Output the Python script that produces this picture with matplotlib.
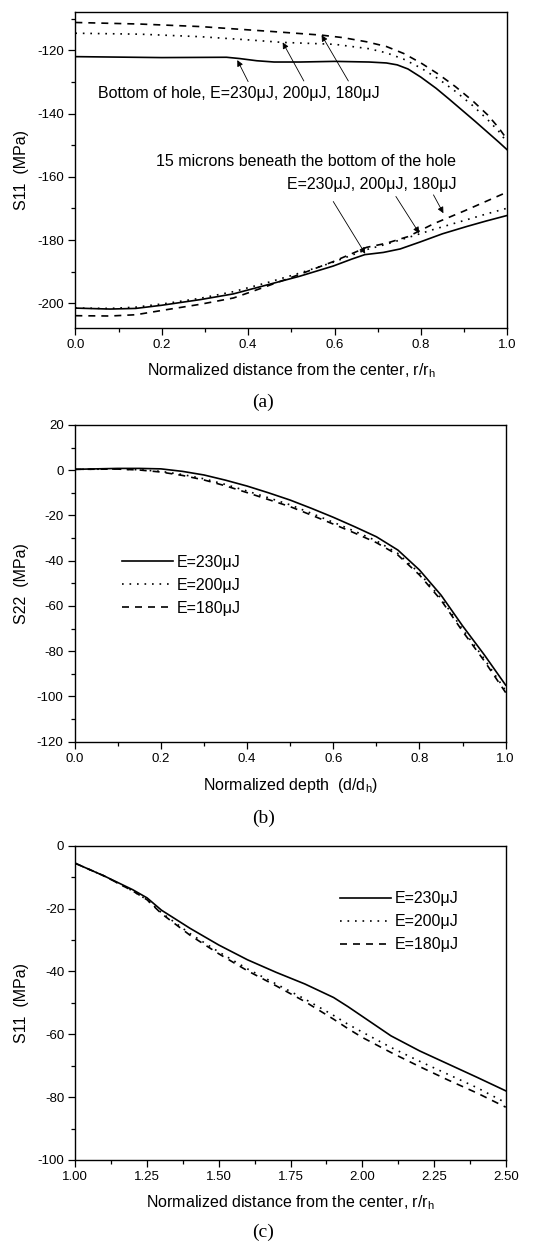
import numpy as np
import matplotlib
matplotlib.use("Agg")
import matplotlib.pyplot as plt
from matplotlib.ticker import MultipleLocator, FormatStrFormatter

plt.rcParams['font.family'] = ['Liberation Sans', 'DejaVu Sans']
plt.rcParams['mathtext.fontset'] = 'custom'
plt.rcParams['mathtext.rm'] = 'Liberation Sans'
plt.rcParams['axes.unicode_minus'] = False

# ---- panel (a): S11 vs r/rh ----
# bottom of hole
a_top_x230 = [0.0, 0.2, 0.35, 0.38, 0.42, 0.46, 0.52, 0.6, 0.68, 0.72, 0.745, 0.77, 0.8, 0.835, 0.865, 0.895, 0.925, 0.955, 0.98, 1.0]
a_top_y230 = [-122.0, -122.3, -122.2, -122.6, -123.3, -123.7, -123.7, -123.5, -123.7, -124.0, -124.6, -125.9, -128.5, -132.0, -135.4, -138.9, -142.4, -146.0, -149.0, -151.5]
a_top_x200 = [0.0, 0.15, 0.29, 0.4, 0.48, 0.6, 0.68, 0.72, 0.76, 0.8, 0.84, 0.88, 0.92, 0.955, 0.98, 1.0]
a_top_y200 = [-114.6, -114.9, -115.7, -116.7, -117.5, -118.1, -119.5, -120.8, -122.8, -125.6, -129.0, -133.0, -137.5, -142.0, -145.6, -149.2]
a_top_x180 = [0.0, 0.15, 0.29, 0.45, 0.57, 0.62, 0.674, 0.72, 0.76, 0.8, 0.84, 0.88, 0.92, 0.955, 0.98, 1.0]
a_top_y180 = [-111.2, -111.7, -112.5, -114.0, -115.2, -116.0, -117.3, -118.8, -121.0, -124.0, -127.5, -131.5, -136.0, -140.5, -144.5, -148.3]
# 15 microns beneath the bottom of the hole
a_bot_x230 = [0.0, 0.08, 0.14, 0.2, 0.29, 0.366, 0.443, 0.52, 0.597, 0.64, 0.67, 0.713, 0.752, 0.798, 0.85, 0.906, 0.95, 1.0]
a_bot_y230 = [-201.5, -201.8, -201.6, -200.6, -198.8, -197.0, -194.2, -191.4, -188.2, -186.0, -184.6, -183.9, -182.8, -180.6, -178.0, -175.7, -174.0, -172.2]
a_bot_x200 = [0.0, 0.08, 0.14, 0.211, 0.289, 0.366, 0.443, 0.52, 0.597, 0.674, 0.72, 0.77, 0.83, 0.9, 0.95, 1.0]
a_bot_y200 = [-201.5, -201.6, -201.2, -200.0, -198.4, -196.3, -193.5, -190.4, -187.0, -183.0, -181.3, -179.2, -176.6, -173.8, -171.8, -169.9]
a_bot_x180 = [0.0, 0.08, 0.14, 0.211, 0.289, 0.366, 0.404, 0.443, 0.52, 0.597, 0.674, 0.72, 0.77, 0.83, 0.9, 0.95, 1.0]
a_bot_y180 = [-203.9, -204.0, -203.6, -202.0, -200.3, -198.3, -196.5, -194.6, -190.8, -186.8, -182.3, -181.0, -178.9, -174.8, -170.8, -167.8, -164.8]

# ---- panel (b): S22 vs depth ----
b_x = [0.0, 0.1, 0.15, 0.2, 0.25, 0.3, 0.35, 0.4, 0.45, 0.5, 0.55, 0.6, 0.65, 0.7, 0.75, 0.8, 0.85, 0.9, 0.95, 1.0]
b_230 = [0.4, 0.8, 0.8, 0.6, -0.5, -2.1, -4.4, -7.0, -10.0, -13.2, -16.9, -20.8, -25.0, -29.4, -35.3, -44.1, -55.2, -68.8, -81.5, -95.0]
b_200 = [0.4, 0.5, 0.2, -0.5, -1.9, -3.8, -6.3, -9.2, -12.2, -15.3, -19.1, -23.0, -27.0, -31.2, -36.8, -45.5, -56.6, -70.3, -83.3, -97.5]
b_180 = [0.4, 0.5, 0.1, -0.8, -2.3, -4.3, -6.9, -9.9, -13.0, -16.1, -19.9, -23.8, -27.8, -32.0, -37.5, -46.3, -57.4, -71.2, -84.2, -98.3]

# ---- panel (c): S11 vs r/rh ----
c_x = [1.0, 1.1, 1.2, 1.25, 1.3, 1.4, 1.5, 1.6, 1.7, 1.8, 1.9, 1.95, 2.0, 2.1, 2.2, 2.3, 2.4, 2.5]
c_230 = [-5.6, -9.6, -14.0, -16.6, -20.5, -26.3, -31.6, -36.3, -40.3, -44.0, -48.3, -51.2, -54.3, -60.5, -65.3, -69.5, -73.7, -78.0]
c_200 = [-5.6, -9.6, -14.4, -17.2, -21.3, -28.0, -33.8, -39.2, -44.0, -48.8, -54.0, -56.8, -59.3, -64.2, -68.6, -72.8, -77.0, -81.8]
c_180 = [-5.6, -9.6, -14.4, -17.2, -21.6, -28.5, -34.4, -39.8, -44.6, -49.6, -55.2, -58.2, -61.0, -65.8, -70.3, -74.6, -78.7, -83.2]

labels = ['E=230\u03bcJ', 'E=200\u03bcJ', 'E=180\u03bcJ']
styles = ['-', (0, (1, 3.5)), (0, (4.2, 3.6))]
lw = 1.2
fs = 11.5

fig = plt.figure(figsize=(5.35, 12.47), dpi=100)
axa = fig.add_axes([0.1408, 0.7372, 0.8075, 0.2534])
axb = fig.add_axes([0.1396, 0.4052, 0.8056, 0.2540])
axc = fig.add_axes([0.1408, 0.0698, 0.8045, 0.2520])


def style_ax(ax):
    for s in ax.spines.values():
        s.set_linewidth(1.0)
    ax.tick_params(which='both', direction='out', top=False, right=False, labelsize=9.5, width=0.9, pad=3)
    ax.tick_params(which='major', length=5)
    ax.tick_params(which='minor', length=3)


# (a)
for xs, ys, ls in [(a_top_x230, a_top_y230, styles[0]), (a_top_x200, a_top_y200, styles[1]),
                   (a_top_x180, a_top_y180, styles[2]), (a_bot_x230, a_bot_y230, styles[0]),
                   (a_bot_x200, a_bot_y200, styles[1]), (a_bot_x180, a_bot_y180, styles[2])]:
    axa.plot(xs, ys, color='k', ls=ls, lw=lw)
axa.set_xlim(0, 1.0)
axa.set_ylim(-207.7, -107.8)
axa.xaxis.set_major_locator(MultipleLocator(0.2))
axa.xaxis.set_minor_locator(MultipleLocator(0.1))
axa.yaxis.set_major_locator(MultipleLocator(20))
axa.yaxis.set_minor_locator(MultipleLocator(10))
axa.xaxis.set_major_formatter(FormatStrFormatter('%.1f'))
style_ax(axa)
axa.set_xlabel('Normalized distance from the center, r/r$_\\mathrm{h}$', fontsize=fs)
axa.set_ylabel('S11  (MPa)', fontsize=fs)

arr = dict(arrowstyle='-|>', color='k', lw=0.6, mutation_scale=9, shrinkA=0, shrinkB=0)
axa.text(0.053, -133.6, 'Bottom of hole, E=230\u03bcJ, 200\u03bcJ, 180\u03bcJ', fontsize=fs, va='center')
axa.annotate('', xy=(0.375, -123.1), xytext=(0.40, -129.9), arrowprops=arr)
axa.annotate('', xy=(0.48, -117.5), xytext=(0.529, -129.7), arrowprops=arr)
axa.annotate('', xy=(0.570, -115.2), xytext=(0.632, -129.7), arrowprops=arr)
axa.text(0.882, -155.2, '15 microns beneath the bottom of the hole', fontsize=fs, va='center', ha='right')
axa.text(0.882, -162.3, 'E=230\u03bcJ, 200\u03bcJ, 180\u03bcJ', fontsize=fs, va='center', ha='right')
axa.annotate('', xy=(0.671, -184.3), xytext=(0.597, -167.8), arrowprops=arr)
axa.annotate('', xy=(0.796, -177.8), xytext=(0.742, -166.2), arrowprops=arr)
axa.annotate('', xy=(0.852, -171.5), xytext=(0.829, -165.7), arrowprops=arr)

# (b)
for y, ls, lab in zip([b_230, b_200, b_180], styles, labels):
    axb.plot(b_x, y, color='k', ls=ls, lw=lw, label=lab)
axb.set_xlim(0, 1.0)
axb.set_ylim(-120, 20)
axb.xaxis.set_major_locator(MultipleLocator(0.2))
axb.xaxis.set_minor_locator(MultipleLocator(0.1))
axb.yaxis.set_major_locator(MultipleLocator(20))
axb.yaxis.set_minor_locator(MultipleLocator(10))
axb.xaxis.set_major_formatter(FormatStrFormatter('%.1f'))
style_ax(axb)
axb.set_xlabel('Normalized depth  (d/d$_\\mathrm{h}$)', fontsize=fs)
axb.set_ylabel('S22  (MPa)', fontsize=fs)
axb.legend(loc='upper left', bbox_to_anchor=(0.095, 0.61), frameon=False, fontsize=fs,
           handlelength=3.2, handletextpad=0.2, labelspacing=0.5, borderaxespad=0)

# (c)
for y, ls, lab in zip([c_230, c_200, c_180], styles, labels):
    axc.plot(c_x, y, color='k', ls=ls, lw=lw, label=lab)
axc.set_xlim(1.0, 2.5)
axc.set_ylim(-100, 0)
axc.xaxis.set_major_locator(MultipleLocator(0.25))
axc.xaxis.set_minor_locator(MultipleLocator(0.125))
axc.yaxis.set_major_locator(MultipleLocator(20))
axc.yaxis.set_minor_locator(MultipleLocator(10))
axc.xaxis.set_major_formatter(FormatStrFormatter('%.2f'))
style_ax(axc)
axc.set_xlabel('Normalized distance from the center, r/r$_\\mathrm{h}$', fontsize=fs)
axc.set_ylabel('S11  (MPa)', fontsize=fs)
axc.legend(loc='upper left', bbox_to_anchor=(0.6, 0.875), frameon=False, fontsize=fs,
           handlelength=3.2, handletextpad=0.2, labelspacing=0.5, borderaxespad=0)

for ax in (axa, axb, axc):
    ax.yaxis.set_label_coords(-0.107, 0.5)
axa.xaxis.set_label_coords(0.5, -0.105)
axb.xaxis.set_label_coords(0.5, -0.108)
axc.xaxis.set_label_coords(0.5, -0.105)

for txt, yy in [('(a)', 0.6776), ('(b)', 0.344), ('(c)', 0.0115)]:
    fig.text(0.492, yy, txt, family='Liberation Serif', fontsize=14, ha='center', va='center')

fig.savefig('out.png', dpi=100)
